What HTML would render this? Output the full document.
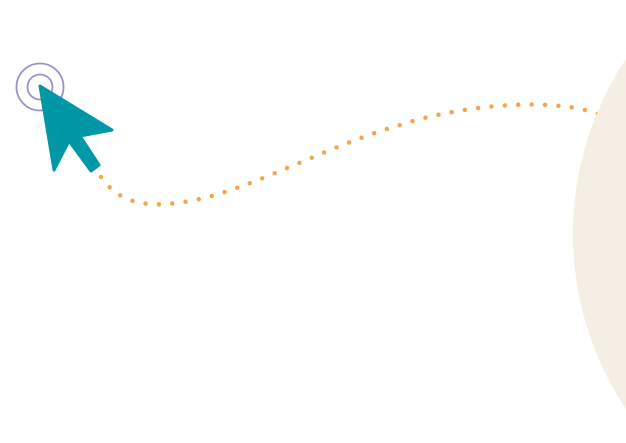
<!DOCTYPE html>
<html><head><style>html,body{margin:0;padding:0;background:#fff;width:626px;height:443px;overflow:hidden;}svg{display:block}</style></head>
<body>
<svg width="626" height="443" viewBox="0 0 626 443" xmlns="http://www.w3.org/2000/svg">
<path d="M101,177 C125,212 165,206 200,199 C260,185 330,145 400,125 C460,105 560,95 605,117" fill="none" stroke="#f6a44e" stroke-width="4.5" stroke-linecap="round" stroke-dasharray="0 13.4"/>
<path d="M626,59 A315,315 0 0 0 626,409 Z" fill="#f5eee4"/>
<circle cx="40" cy="87" r="23.5" fill="none" stroke="#9a92c8" stroke-width="1.8"/>
<circle cx="40" cy="87" r="12.5" fill="none" stroke="#9a92c8" stroke-width="1.8"/>
<path d="M40,86 L112,130 L80,136 L99,165 L91,171 L69,141 L54,170 Z" fill="#0097a7" stroke="#0097a7" stroke-width="3" stroke-linejoin="round"/>
</svg>
</body></html>
